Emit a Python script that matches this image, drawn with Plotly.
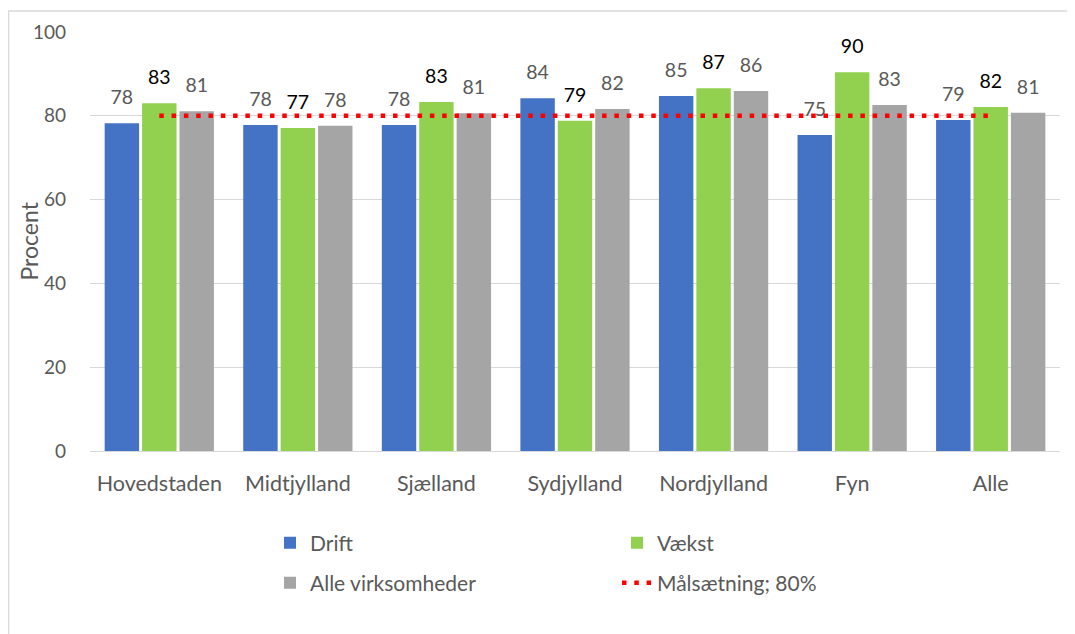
import plotly.graph_objects as go

categories = ["Hovedstaden", "Midtjylland", "Sjælland", "Sydjylland", "Nordjylland", "Fyn", "Alle"]
drift = [78.2, 77.8, 77.8, 84.2, 84.7, 75.4, 79.0]
vaekst = [83.0, 77.1, 83.3, 78.8, 86.6, 90.4, 82.1]
alle_virk = [81.1, 77.6, 80.6, 81.6, 85.9, 82.6, 80.7]
target = [80] * len(categories)
y_ticks = [0, 20, 40, 60, 80, 100]

FONT = "Lato, 'Open Sans', sans-serif"
GRAY_TXT = "#595959"

# the page body has an 8px margin, so the figure is drawn 8px smaller
OFF = 8
W, H = 1075 - OFF, 634 - OFF
L, R, T, B = 90 - OFF, W - (1060 - OFF), 32 - OFF, H - (451 - OFF)
pw, ph = W - L - R, H - T - B


def px_x(x):  # screen pixel -> paper x
    return (x - OFF - L) / pw


def px_y(y):  # screen pixel -> paper y
    return 1 - (y - OFF - T) / ph


def lbl(vals):
    return [f"<span style='font-size:19.5px'>{round(v):d}</span><br>\u00a0" for v in vals]


fig = go.Figure()

fig.add_trace(go.Bar(
    name="Drift", x=categories, y=drift, marker_color="#4472C4",
    text=lbl(drift), textposition="outside", cliponaxis=False, constraintext="none",
    textfont=dict(color=GRAY_TXT, size=11, family=FONT), legend="legend"))
fig.add_trace(go.Bar(
    name="Vækst", x=categories, y=vaekst, marker_color="#92D050",
    text=lbl(vaekst), textposition="outside", cliponaxis=False, constraintext="none",
    textfont=dict(color="#000000", size=11, family=FONT), legend="legend"))
fig.add_trace(go.Bar(
    name="Alle virksomheder", x=categories, y=alle_virk, marker_color="#A5A5A5",
    text=lbl(alle_virk), textposition="outside", cliponaxis=False, constraintext="none",
    textfont=dict(color=GRAY_TXT, size=11, family=FONT), legend="legend2"))
fig.add_trace(go.Scatter(
    name="Målsætning; 80%", x=categories, y=target, mode="lines",
    line=dict(color="#FF0000", width=4.5, dash="4.5px,7.8px"), legend="legend2"))

fig.update_traces(selector=dict(type="bar"), marker_line_width=0)

leg_common = dict(
    orientation="h", xanchor="left", yanchor="middle",
    entrywidth=302, entrywidthmode="pixels",
    font=dict(size=21, color=GRAY_TXT, family=FONT),
    traceorder="normal", bgcolor="rgba(0,0,0,0)",
)

fig.update_layout(
    width=W, height=H,
    margin=dict(l=L, r=R, t=T, b=B, autoexpand=False),
    paper_bgcolor="white", plot_bgcolor="white",
    font=dict(family=FONT, color=GRAY_TXT, size=18),
    barmode="group", bargap=0.19, bargroupgap=0.08,
    showlegend=True,
    legend=dict(x=px_x(270), y=px_y(543), **leg_common),
    legend2=dict(x=px_x(270), y=px_y(583), **leg_common),
    xaxis=dict(
        showgrid=False, showline=True, linecolor="#D9D9D9", linewidth=1,
        ticks="", tickfont=dict(size=21.5, color=GRAY_TXT), ticklabelstandoff=13,
    ),
    yaxis=dict(
        range=[0, 100], tickvals=y_ticks, showgrid=True, gridcolor="#D9D9D9",
        gridwidth=1, zeroline=False, ticks="", ticklen=0,
        tickfont=dict(size=19, color=GRAY_TXT), ticklabelstandoff=23,
    ),
    annotations=[dict(
        text="Procent", textangle=-90, xref="paper", yref="paper",
        x=px_x(28), y=0.5, xanchor="center", yanchor="middle", showarrow=False,
        font=dict(size=23, color=GRAY_TXT, family=FONT),
    )],
    shapes=[dict(
        type="rect", xref="paper", yref="paper",
        x0=(0.5 - L) / pw, x1=(W + 20 - L) / pw,
        y0=-(H + 20 - T - ph) / ph, y1=1 + (T - 3) / ph,
        line=dict(color="#D9D9D9", width=1.5), fillcolor="rgba(0,0,0,0)",
        layer="below",
    )],
)

fig.write_html("out.html")
